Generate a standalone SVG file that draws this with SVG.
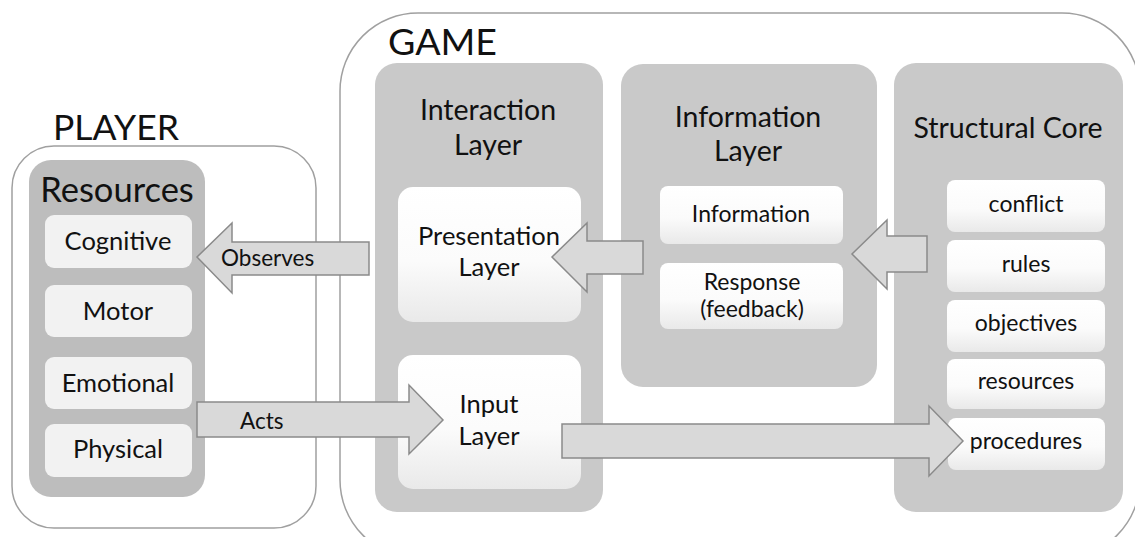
<svg xmlns="http://www.w3.org/2000/svg" width="1135" height="537" viewBox="0 0 1135 537">
  <defs>
    <linearGradient id="softWhite" x1="0" y1="0" x2="0" y2="1">
      <stop offset="0" stop-color="#ffffff"/>
      <stop offset="0.55" stop-color="#fbfbfb"/>
      <stop offset="1" stop-color="#e9e9e9"/>
    </linearGradient>
    <style>
      text { font-family: Lato, "Liberation Sans", sans-serif; fill: #111111; }
      .frame { fill: #ffffff; stroke: #a0a0a0; stroke-width: 1.5; }
      .panel { fill: #c9c9c9; }
      .panel-dark { fill: #bdbdbd; }
      .tile { fill: #f2f2f2; }
      .card { fill: url(#softWhite); }
      .arrow { fill: #d9d9d9; stroke: #8a8a8a; stroke-width: 1.5; stroke-linejoin: miter; }
      .title { font-size: 35.5px; }
      .head { font-size: 28.5px; text-anchor: middle; }
      .item { font-size: 25.5px; text-anchor: middle; }
      .small { font-size: 23px; text-anchor: middle; }
      .label { font-size: 22.5px; }
    </style>
  </defs>

  <!-- PLAYER side -->
  <g id="player">
    <rect class="frame" x="12" y="146" width="304" height="382" rx="42"/>
    <text class="title" x="53" y="140">PLAYER</text>
  </g>
  <g id="resources">
    <rect class="panel-dark" x="29" y="160" width="176" height="337" rx="22"/>
    <text x="117" y="202" style="font-size:34.5px;text-anchor:middle">Resources</text>
  </g>
  <g id="cognitive">
    <rect class="tile" x="45" y="215" width="147" height="53" rx="9"/>
    <text class="item" x="118" y="250">Cognitive</text>
  </g>
  <g id="motor">
    <rect class="tile" x="45" y="285" width="147" height="52" rx="9"/>
    <text class="item" x="118" y="320">Motor</text>
  </g>
  <g id="emotional">
    <rect class="tile" x="45" y="357" width="147" height="52" rx="9"/>
    <text class="item" x="118" y="392">Emotional</text>
  </g>
  <g id="physical">
    <rect class="tile" x="45" y="424" width="147" height="53" rx="9"/>
    <text class="item" x="118" y="458">Physical</text>
  </g>

  <!-- GAME side -->
  <g id="game">
    <rect class="frame" x="340" y="13" width="800" height="545" rx="78"/>
    <text class="title" x="388" y="55" style="font-size:37.5px">GAME</text>
  </g>

  <g id="interaction-layer">
    <rect class="panel" x="375" y="63" width="228" height="449" rx="22"/>
    <text class="head" x="488" y="120">Interaction</text>
    <text class="head" x="488" y="155">Layer</text>
  </g>
  <g id="presentation-layer">
    <rect class="card" x="398" y="187" width="183" height="135" rx="15"/>
    <text class="item" x="489" y="245">Presentation</text>
    <text class="item" x="489" y="276">Layer</text>
  </g>
  <g id="input-layer">
    <rect class="card" x="398" y="355" width="183" height="134" rx="15"/>
    <text class="item" x="489" y="413">Input</text>
    <text class="item" x="489" y="445">Layer</text>
  </g>

  <g id="information-layer">
    <rect class="panel" x="621" y="64" width="256" height="323" rx="22"/>
    <text class="head" x="748" y="127">Information</text>
    <text class="head" x="748" y="161">Layer</text>
  </g>
  <g id="information">
    <rect class="card" x="660" y="186" width="183" height="58" rx="8"/>
    <text class="small" x="751" y="222">Information</text>
  </g>
  <g id="response">
    <rect class="card" x="660" y="263" width="183" height="66" rx="8"/>
    <text class="small" x="752" y="290">Response</text>
    <text class="small" x="752" y="317">(feedback)</text>
  </g>

  <g id="structural-core">
    <rect class="panel" x="894" y="63" width="229" height="449" rx="22"/>
    <text class="head" x="1008" y="138">Structural Core</text>
  </g>
  <g id="conflict">
    <rect class="card" x="947" y="180" width="158" height="52" rx="8"/>
    <text class="small" x="1026" y="212">conflict</text>
  </g>
  <g id="rules">
    <rect class="card" x="947" y="240" width="158" height="52" rx="8"/>
    <text class="small" x="1026" y="272">rules</text>
  </g>
  <g id="objectives">
    <rect class="card" x="947" y="300" width="158" height="52" rx="8"/>
    <text class="small" x="1026" y="331">objectives</text>
  </g>
  <g id="resources-core">
    <rect class="card" x="947" y="359" width="158" height="50" rx="8"/>
    <text class="small" x="1026" y="389">resources</text>
  </g>
  <g id="procedures">
    <rect class="card" x="948" y="418" width="157" height="52" rx="8"/>
    <text class="small" x="1026" y="449">procedures</text>
  </g>

  <!-- block arrows between layers -->
  <g id="connectors">
    <polygon class="arrow" points="369,242 232,242 232,223 197,257 232,293 232,275 369,275"/>
    <text class="label" x="221" y="266">Observes</text>

    <polygon class="arrow" points="197,402 409,402 409,385 443,420 409,454 409,437 197,437"/>
    <text class="label" x="240" y="429">Acts</text>

    <polygon class="arrow" points="643,241 587,241 587,223 552,257 587,292 587,274 643,274"/>

    <polygon class="arrow" points="927,236 887,236 887,220 852,254 887,289 887,272 927,272"/>

    <polygon class="arrow" points="562,424 929,424 929,406 963,441 929,476 929,458 562,458"/>
  </g>
</svg>
